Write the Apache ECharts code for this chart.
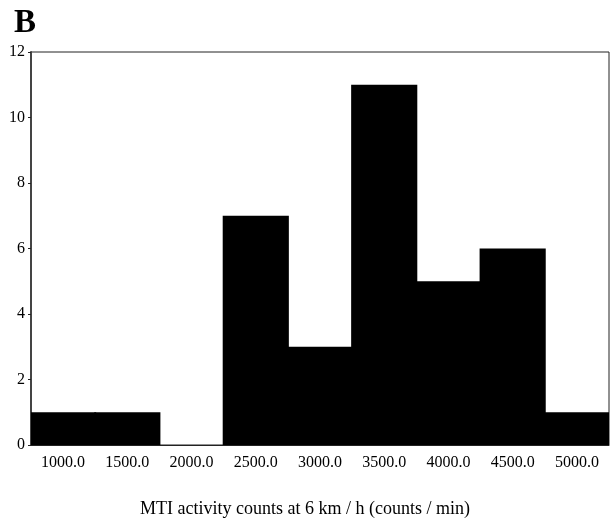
<!DOCTYPE html>
<html><head><meta charset="utf-8">
<script src="https://cdn.jsdelivr.net/npm/echarts@6/dist/echarts.min.js"></script>
<style>html,body{margin:0;padding:0;background:#fff}#c{width:610px;height:521px}</style>
</head><body><div id="c"></div>
<script>
const categories = ['1000.0','1500.0','2000.0','2500.0','3000.0','3500.0','4000.0','4500.0','5000.0'];
const counts = [1, 1, 0, 7, 3, 11, 5, 6, 1];
const yTicks = [0, 2, 4, 6, 8, 10, 12];
const xTitle = 'MTI activity counts at 6 km / h (counts / min)';
const panelLabel = 'B';

const chart = echarts.init(document.getElementById('c'));
const serif = '"Liberation Serif", "DejaVu Serif", serif';
chart.setOption({
  animation: false,
  backgroundColor: '#fff',
  title: [{
    text: panelLabel, left: 9, top: 2,
    textStyle: {fontFamily: serif, fontSize: 33, fontWeight: 'bold', color: '#000'}
  }, {
    text: xTitle, left: 'center', top: 495,
    textStyle: {fontFamily: serif, fontSize: 18, fontWeight: 'normal', color: '#000'}
  }],
  grid: {left: 31, right: 1, top: 52, bottom: 76, show: true, borderColor: '#222', borderWidth: 1},
  xAxis: {
    type: 'category', data: categories,
    axisLine: {lineStyle: {color: '#222', width: 1}},
    axisTick: {alignWithLabel: true, length: 4, lineStyle: {color: '#222'}},
    axisLabel: {fontFamily: serif, fontSize: 16, color: '#000', margin: 10},
    splitLine: {show: false}
  },
  yAxis: {
    type: 'value', min: yTicks[0], max: yTicks[yTicks.length - 1], interval: 2,
    axisLine: {show: true, lineStyle: {color: '#444', width: 2}},
    axisTick: {show: true, length: 3, lineStyle: {color: '#222'}},
    axisLabel: {fontFamily: serif, fontSize: 16, color: '#000', margin: 6},
    splitLine: {show: false}
  },
  series: [{
    type: 'bar', data: counts, barCategoryGap: '0%', barWidth: '103%',
    itemStyle: {color: '#000'}
  }]
});
</script></body></html>
